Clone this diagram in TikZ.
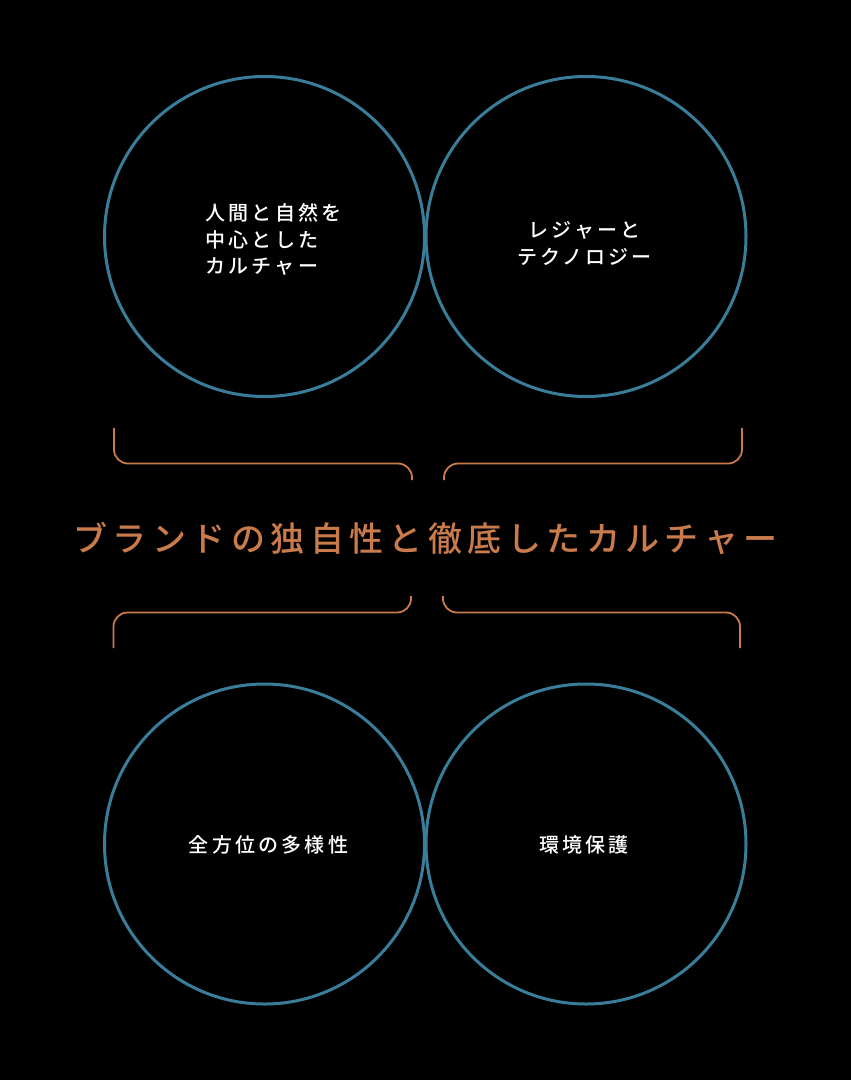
\documentclass[tikz,border=0pt]{standalone}
\usepackage{fontspec}
\newfontfamily\ringfont[LetterSpace=16]{Noto Sans CJK JP Medium}
\newfontfamily\titlefont[LetterSpace=16]{Noto Sans CJK JP Medium}
\definecolor{ringblue}{HTML}{3A7D99}
\definecolor{brandorange}{HTML}{C97B4B}
\tikzset{
  ring/.style={circle,draw=ringblue,line width=3pt,minimum size=320pt,inner sep=0pt},
  ringtext/.style={text=white,align=#1,font=\ringfont\fontsize{20}{26.5}\selectfont},
  ringtext/.default=center,
  bracket/.style={draw=brandorange,line width=1.8pt,rounded corners=14pt}
}
\begin{document}
\begin{tikzpicture}[x=1pt,y=-1pt]
% Background
\fill[black] (0,0) rectangle (851,1080);
\useasboundingbox (0,0) rectangle (851,1080);

% Upper circles
\node[ring] (culture) at (264.5,236.5) {};
\node[ring] (leisure) at (586,236.5) {};
\node[ringtext=left] (culturetext) at ([xshift=9pt,yshift=-3pt]culture.center) {人間と自然を\\中心とした\\カルチャー};
\node[ringtext] (leisuretext) at ([xshift=-1.5pt,yshift=-7pt]leisure.center) {レジャーと\\テクノロジー};

% Lower circles
\node[ring] (diversity) at (264.5,844) {};
\node[ring] (ecology) at (586,844) {};
\node[ringtext] (diversitytext) at ([xshift=4pt,yshift=-1pt]diversity.center) {全方位の多様性};
\node[ringtext] (ecologytext) at ([xshift=-2pt,yshift=-1pt]ecology.center) {環境保護};

% Title
\node[text=brandorange,font=\titlefont\fontsize{34}{40}\selectfont] (brand) at (425.5,538) {ブランドの独自性と徹底したカルチャー};

% Brackets
\draw[bracket] (114,428) -- (114,463.5) -- (412,463.5) -- (412,480);
\draw[bracket] (444,480) -- (444,463.5) -- (742,463.5) -- (742,428);
\draw[bracket] (411,596) -- (411,612.5) -- (113.5,612.5) -- (113.5,648);
\draw[bracket] (443,596) -- (443,612.5) -- (740,612.5) -- (740,648);
\end{tikzpicture}
\end{document}
